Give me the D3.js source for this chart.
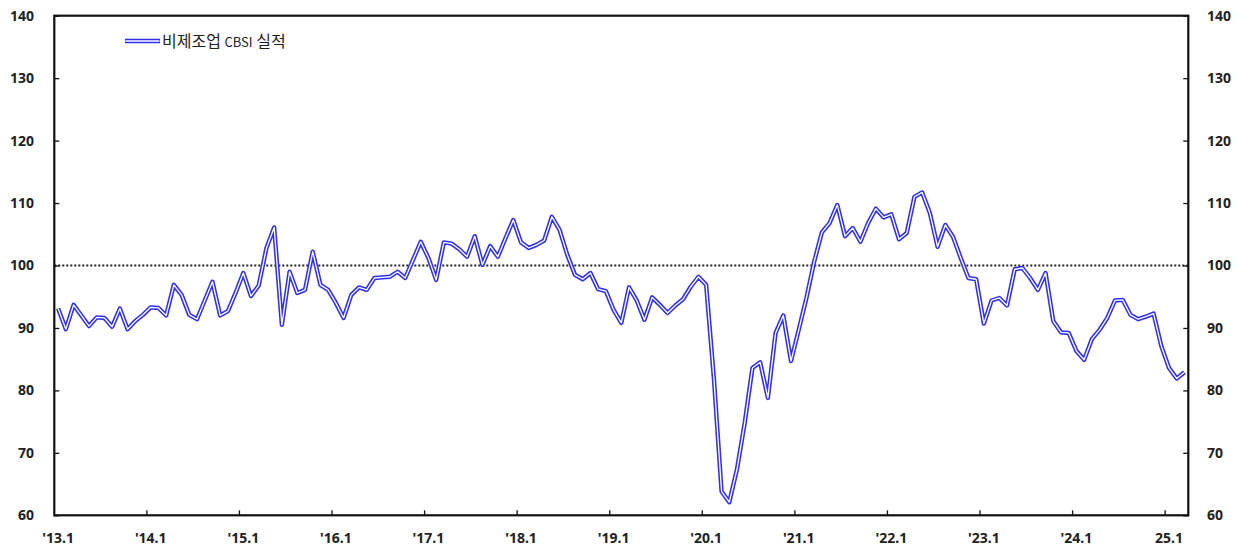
<!DOCTYPE html>
<html>
<head>
<meta charset="utf-8">
<script src="https://cdn.jsdelivr.net/npm/d3@7"></script>
<style>
    body { margin: 0; background: #fff; }
    #chart { width: 1243px; height: 548px; }
</style>
</head>
<body>
<div id="chart"></div>
<script>
// 비제조업 CBSI 실적, monthly 2013.1 ~ 2025.3
var startYear = 2013;
var cbsi = [
    93.1, 89.8, 93.7, 92.0, 90.3, 91.7, 91.6, 90.2, 93.1, 89.8, 91.1, 92.1,
    93.3, 93.2, 92.0, 96.9, 95.3, 92.1, 91.4, 94.4, 97.4, 92.0, 92.7, 95.6,
    98.8, 95.1, 96.8, 102.8, 106.1, 90.5, 99.0, 95.6, 96.1, 102.2, 96.9, 96.1,
    94.0, 91.6, 95.3, 96.5, 96.1, 98.0, 98.1, 98.2, 99.0, 98.0, 100.9, 103.8,
    101.2, 97.7, 103.7, 103.5, 102.6, 101.4, 104.7, 100.1, 103.1, 101.4, 104.4, 107.3,
    103.7, 102.8, 103.3, 104.0, 107.8, 105.7, 101.7, 98.5, 97.8, 98.8, 96.2, 95.9,
    92.9, 90.8, 96.5, 94.4, 91.3, 94.9, 93.7, 92.4, 93.6, 94.6, 96.6, 98.2,
    96.9, 82.0, 63.8, 62.1, 67.4, 74.8, 83.6, 84.5, 78.8, 89.2, 92.0, 84.7,
    89.7, 94.8, 100.6, 105.3, 106.8, 109.7, 104.7, 106.0, 103.8, 106.8, 109.1, 107.7,
    108.2, 104.2, 105.2, 111.0, 111.7, 108.4, 103.0, 106.5, 104.6, 101.2, 98.0, 97.8,
    90.7, 94.4, 94.8, 93.6, 99.4, 99.6, 98.0, 96.1, 98.8, 91.1, 89.3, 89.2,
    86.3, 84.9, 88.2, 89.7, 91.6, 94.4, 94.5, 92.1, 91.4, 91.8, 92.3, 87.1,
    83.6, 81.9, 82.9
];
var yTicks = [60, 70, 80, 90, 100, 110, 120, 130, 140];
var xTickLabels = ["'13.1", "'14.1", "'15.1", "'16.1", "'17.1", "'18.1", "'19.1",
    "'20.1", "'21.1", "'22.1", "'23.1", "'24.1", "25.1"];
var seriesName = ["비제조업 ", "CBSI", " 실적"];
var baseLine = 100;

function drawChart() {
    var width = 1243;
    var height = 548;
    var margin = ({ top: 15.7, right: 54.7, bottom: 32.7, left: 54.3 });
    var blue = "#3030ee";
    var axisFont = "'Noto Sans', 'DejaVu Sans', sans-serif";

    var months = cbsi.map((v, i) => i);

    var x = d3.scaleBand()
        .domain(months)
        .range([margin.left, width - margin.right]);

    var y = d3.scaleLinear()
        .domain([60, 140])
        .range([height - margin.bottom, margin.top]);

    const svg = d3.select("#chart").append("svg")
        .attr("width", width)
        .attr("height", height)
        .attr("viewBox", [0, 0, width, height]);

    var yearStarts = months.filter(i => i % 12 == 0);

    // 100 baseline
    svg.append("line")
        .attr("x1", margin.left)
        .attr("x2", width - margin.right)
        .attr("y1", y(baseLine))
        .attr("y2", y(baseLine))
        .attr("stroke", "#222")
        .attr("stroke-width", 2)
        .attr("stroke-dasharray", "2,2");

    var line = d3.line()
        .x((d, i) => x(i) + x.bandwidth() / 2)
        .y(d => y(d));

    // double line: blue outside, white core
    svg.append("path")
        .datum(cbsi)
        .attr("fill", "none")
        .attr("stroke", blue)
        .attr("stroke-width", 4.4)
        .attr("stroke-linejoin", "round")
        .attr("d", line);

    svg.append("path")
        .datum(cbsi)
        .attr("fill", "none")
        .attr("stroke", "#fff")
        .attr("stroke-width", 1.3)
        .attr("stroke-linejoin", "round")
        .attr("d", line);

    // axes
    var yLeft = g => g
        .attr("transform", `translate(${margin.left},0)`)
        .call(d3.axisRight(y).tickValues(yTicks).tickSize(5).tickFormat(""))
        .call(g => g.select(".domain").remove());

    var yRight = g => g
        .attr("transform", `translate(${width - margin.right},0)`)
        .call(d3.axisLeft(y).tickValues(yTicks).tickSize(5).tickFormat(""))
        .call(g => g.select(".domain").remove());

    var xAxis = g => g
        .attr("transform", `translate(0,${height - margin.bottom})`)
        .call(d3.axisTop(x).tickValues(yearStarts.slice(1)).tickSize(5).tickFormat(""))
        .call(g => g.select(".domain").remove())
        .call(g => g.selectAll(".tick").attr("transform", d => `translate(${x(d)},0)`));

    svg.append("g").call(yLeft);
    svg.append("g").call(yRight);
    svg.append("g").call(xAxis);
    svg.selectAll(".tick line").attr("stroke", "#111").attr("stroke-width", 1.3);

    // frame
    svg.append("rect")
        .attr("x", margin.left)
        .attr("y", margin.top)
        .attr("width", width - margin.left - margin.right)
        .attr("height", height - margin.top - margin.bottom)
        .attr("fill", "none")
        .attr("stroke", "#111")
        .attr("stroke-width", 2.2);

    // tick labels
    svg.append("g")
        .attr("font-family", axisFont)
        .attr("font-weight", "bold")
        .attr("font-size", 14)
        .attr("fill", "#222")
        .attr("text-anchor", "end")
        .selectAll("text")
        .data(yTicks)
        .join("text")
        .attr("x", 34)
        .attr("y", d => y(d))
        .attr("dy", "0.35em")
        .text(d => d);

    svg.append("g")
        .attr("font-family", axisFont)
        .attr("font-weight", "bold")
        .attr("font-size", 14)
        .attr("fill", "#222")
        .attr("text-anchor", "start")
        .selectAll("text")
        .data(yTicks)
        .join("text")
        .attr("x", 1207)
        .attr("y", d => y(d))
        .attr("dy", "0.35em")
        .text(d => d);

    svg.append("g")
        .attr("font-family", axisFont)
        .attr("font-weight", "bold")
        .attr("font-size", 14)
        .attr("fill", "#222")
        .attr("text-anchor", "middle")
        .selectAll("text")
        .data(yearStarts)
        .join("text")
        .attr("x", d => x(d) + x.bandwidth() / 2)
        .attr("y", 538)
        .attr("dy", "0.35em")
        .text((d, i) => xTickLabels[i]);

    // legend
    var legend = svg.append("g");
    legend.append("line")
        .attr("x1", 125).attr("x2", 160)
        .attr("y1", 41).attr("y2", 41)
        .attr("stroke", blue)
        .attr("stroke-width", 4.6);
    legend.append("line")
        .attr("x1", 125.5).attr("x2", 159.5)
        .attr("y1", 41).attr("y2", 41)
        .attr("stroke", "#fff")
        .attr("stroke-width", 1.4);
    legend.append("text")
        .attr("x", 162)
        .attr("y", 41)
        .attr("dy", "0.35em")
        .attr("font-family", "'Noto Sans CJK KR', sans-serif")
        .attr("font-size", 16)
        .attr("fill", "#222")
        .selectAll("tspan")
        .data(seriesName)
        .join("tspan")
        .attr("font-size", (d, i) => i == 1 ? 13 : 16)
        .text(d => d);
}

drawChart();
</script>
</body>
</html>
